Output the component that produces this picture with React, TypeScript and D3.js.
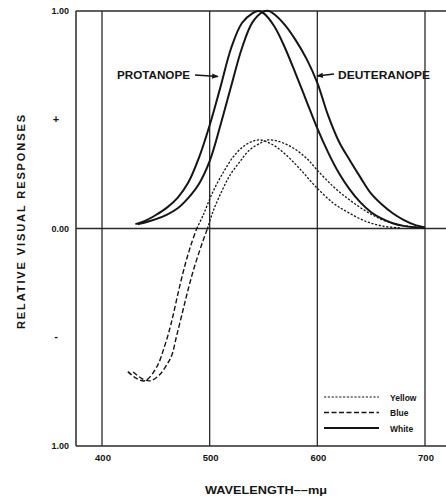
import React from "react";
import * as d3 from "d3";

// ---- data ----
const protWhiteWl = [431, 440, 450, 460, 470, 480, 490, 500, 510, 520, 530, 540, 545, 550, 560, 570, 580, 590, 600, 610, 620, 630, 640, 650, 660, 670, 680, 690, 700];
const protWhite = [0.02, 0.035, 0.062, 0.095, 0.14, 0.21, 0.325, 0.475, 0.65, 0.83, 0.945, 0.99, 1.0, 0.99, 0.93, 0.83, 0.71, 0.585, 0.46, 0.35, 0.255, 0.18, 0.12, 0.075, 0.045, 0.024, 0.012, 0.006, 0.003];

const deutWhiteWl = [433, 440, 450, 460, 470, 480, 490, 500, 510, 520, 530, 540, 550, 555, 560, 570, 580, 590, 600, 610, 620, 630, 640, 650, 660, 670, 680, 690, 700];
const deutWhite = [0.02, 0.028, 0.043, 0.063, 0.092, 0.14, 0.205, 0.31, 0.475, 0.655, 0.83, 0.95, 0.997, 1.0, 0.985, 0.935, 0.865, 0.78, 0.67, 0.52, 0.4, 0.315, 0.235, 0.16, 0.11, 0.07, 0.04, 0.018, 0.005];

const protYBWl = [424, 432, 440, 451, 458, 463, 466, 471, 477, 483, 488, 494, 503, 513, 522, 531, 539, 547, 559, 571, 584, 598, 615, 630, 646, 661, 677];
const protYB = [-0.658, -0.689, -0.7, -0.635, -0.543, -0.46, -0.4, -0.29, -0.17, -0.07, 0, 0.062, 0.169, 0.261, 0.33, 0.376, 0.399, 0.407, 0.384, 0.338, 0.273, 0.195, 0.116, 0.07, 0.031, 0.011, 0.003];

const deutYBWl = [429, 437, 445, 453, 461, 465, 469, 474, 479, 485, 493, 498, 503, 511, 519, 528, 537, 547, 554, 565, 578, 590, 600, 615, 630, 646, 661, 677, 698];
const deutYB = [-0.66, -0.69, -0.7, -0.675, -0.62, -0.58, -0.5, -0.4, -0.3, -0.19, -0.068, 0, 0.077, 0.169, 0.246, 0.307, 0.361, 0.392, 0.407, 0.399, 0.369, 0.323, 0.268, 0.192, 0.131, 0.077, 0.039, 0.016, 0.003];

const xTicks = [400, 500, 600, 700];
const yTickValues = [1, 0.5, 0, -0.5, -1];
const yTickLabels = ["1.00", "+", "0.00", "-", "1.00"];
const legendLabels = ["Yellow", "Blue", "White"];
const curveLabels = ["PROTANOPE", "DEUTERANOPE"];
const xTitle = "WAVELENGTH\u2013\u2013m\u03bc";
const yTitle = "RELATIVE VISUAL RESPONSES";

const W = 446;
const H = 499;
const INK = "#151515";
const FONT = "'Liberation Sans', Arial, sans-serif";

const x = d3.scaleLinear().domain([400, 700]).range([102, 425]);
const y = d3.scaleLinear().domain([-1, 1]).range([446, 11]);
const xLeft = x.invert(76);
const xRight = x.invert(446);

type P = [number, number];
const pts = (wl: number[], v: number[]): P[] => wl.map((w, i) => [w, v[i]]);
const line = d3
  .line<P>()
  .x((d) => x(d[0]))
  .y((d) => y(d[1]))
  .curve(d3.curveCatmullRom.alpha(0.5));

// split an opponent curve at its zero crossing: negative = blue, positive = yellow
const zeroIdx = (p: P[]) => p.findIndex((d) => d[1] >= 0);
const bluePart = (p: P[]) => p.slice(0, zeroIdx(p) + 1);
const yellowPart = (p: P[]) => p.slice(zeroIdx(p));

export default function App() {
  const prW = pts(protWhiteWl, protWhite);
  const deW = pts(deutWhiteWl, deutWhite);
  const prYB = pts(protYBWl, protYB);
  const deYB = pts(deutYBWl, deutYB);

  const DOT = "2.2,1.6";
  const DASH = "5,2.5";

  const legendStyles = [
    { dash: DOT, w: 1.2 },
    { dash: DASH, w: 1.3 },
    { dash: undefined, w: 1.8 },
  ];

  return (
    <svg
      width={W}
      height={H}
      style={{ position: "absolute", left: 0, top: 0, background: "#fff" }}
      fontFamily={FONT}
    >
      {/* frame & grid */}
      <g stroke="#2a2a2a" fill="none">
        <line x1={x(xLeft)} x2={x(xRight)} y1={y(1)} y2={y(1)} strokeWidth={1.4} />
        <line x1={x(xLeft)} x2={x(xRight)} y1={y(-1)} y2={y(-1)} strokeWidth={1.4} />
        <line x1={x(xLeft)} x2={x(xRight)} y1={y(0)} y2={y(0)} strokeWidth={1.3} />
        <line x1={x(xLeft)} x2={x(xLeft)} y1={y(1)} y2={y(-1)} strokeWidth={1.5} />
        {xTicks.map((t) => (
          <line key={t} x1={x(t)} x2={x(t)} y1={y(1)} y2={y(-1)} strokeWidth={1.3} />
        ))}
      </g>

      {/* curves */}
      <g fill="none" stroke={INK}>
        <path d={line(prW) || ""} strokeWidth={2} />
        <path d={line(deW) || ""} strokeWidth={2} />
        <path d={line(yellowPart(prYB)) || ""} strokeWidth={1.3} strokeDasharray={DOT} />
        <path d={line(yellowPart(deYB)) || ""} strokeWidth={1.3} strokeDasharray={DOT} />
        <path d={line(bluePart(prYB)) || ""} strokeWidth={1.4} strokeDasharray={DASH} />
        <path d={line(bluePart(deYB)) || ""} strokeWidth={1.4} strokeDasharray={DASH} />
      </g>

      {/* curve labels with arrows */}
      <g fill={INK} fontWeight="bold" fontSize={11}>
        <text x={117} y={79} textLength={73} lengthAdjust="spacingAndGlyphs">
          {curveLabels[0]}
        </text>
        <text x={338} y={79} textLength={92} lengthAdjust="spacingAndGlyphs">
          {curveLabels[1]}
        </text>
      </g>
      <defs>
        <marker id="ah" viewBox="0 0 10 10" refX={9} refY={5} markerWidth={6} markerHeight={5} orient="auto">
          <path d="M0,1 L10,5 L0,9 Z" fill={INK} />
        </marker>
      </defs>
      <g stroke={INK} strokeWidth={1.3} fill="none">
        <line x1={195} y1={75} x2={218} y2={76.5} markerEnd="url(#ah)" />
        <line x1={334} y1={74} x2={317} y2={76} markerEnd="url(#ah)" />
      </g>

      {/* y tick labels */}
      <g fill={INK} fontWeight="bold" fontSize={9}>
        {yTickValues.map((v, i) => (
          <text
            key={i}
            x={yTickLabels[i].length > 1 ? 69 : 56}
            y={y(v) + 3}
            textAnchor={yTickLabels[i].length > 1 ? "end" : "middle"}
            fontSize={yTickLabels[i].length > 1 ? 9 : 11}
          >
            {yTickLabels[i]}
          </text>
        ))}
      </g>

      {/* x tick labels */}
      <g fill={INK} fontWeight="bold" fontSize={9.5}>
        {xTicks.map((t) => (
          <text key={t} x={x(t) + 1} y={461} textAnchor="middle">
            {t}
          </text>
        ))}
      </g>

      {/* axis titles */}
      <text
        x={266}
        y={494}
        textAnchor="middle"
        fontWeight="bold"
        fontSize={10.5}
        fill={INK}
        textLength={122}
        lengthAdjust="spacingAndGlyphs"
      >
        {xTitle}
      </text>
      <text
        transform={`translate(25,${222}) rotate(-90)`}
        textAnchor="middle"
        fontWeight="bold"
        fontSize={11}
        fill={INK}
        textLength={214}
        lengthAdjust="spacing"
      >
        {yTitle}
      </text>

      {/* legend */}
      <g>
        {legendLabels.map((lab, i) => (
          <g key={lab}>
            <line
              x1={324}
              x2={379}
              y1={397 + i * 15.5}
              y2={397 + i * 15.5}
              stroke={INK}
              strokeWidth={legendStyles[i].w}
              strokeDasharray={legendStyles[i].dash}
            />
            <text x={390} y={400.5 + i * 15.5} fontSize={8.5} fontWeight="bold" fill={INK}>
              {lab}
            </text>
          </g>
        ))}
      </g>
    </svg>
  );
}
